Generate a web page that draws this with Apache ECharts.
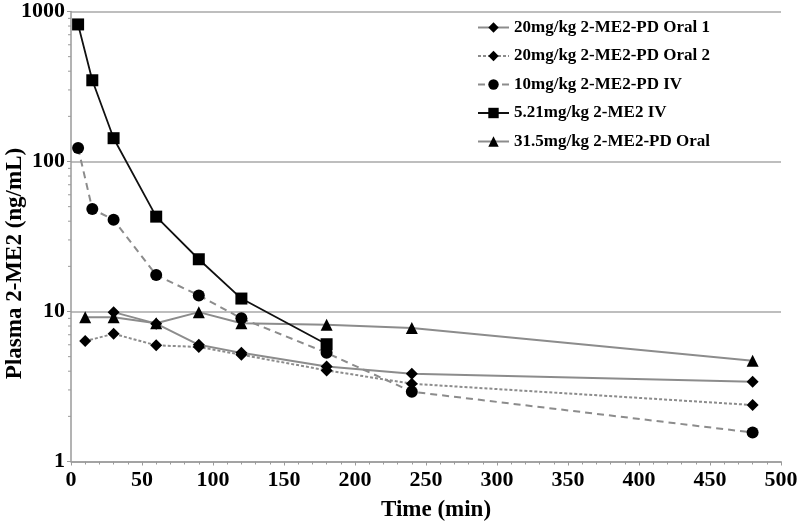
<!DOCTYPE html>
<html>
<head>
<meta charset="utf-8">
<script src="https://cdn.jsdelivr.net/npm/echarts@6/dist/echarts.min.js"></script>
<style>html,body{margin:0;padding:0;background:#fff}#c{width:800px;height:525px}</style>
</head>
<body>
<div id="c"></div>
<script>
const seriesNames = ['20mg/kg 2-ME2-PD Oral 1','20mg/kg 2-ME2-PD Oral 2','10mg/kg 2-ME2-PD IV','5.21mg/kg 2-ME2 IV','31.5mg/kg 2-ME2-PD Oral'];
const oral1Time = [30, 60, 90, 120, 180, 240, 480];
const oral1Conc = [9.9, 8.3, 6.0, 5.3, 4.3, 3.85, 3.4];
const oral2Time = [10, 30, 60, 90, 120, 180, 240, 480];
const oral2Conc = [6.35, 7.1, 5.95, 5.8, 5.15, 4.05, 3.3, 2.38];
const iv10Time = [5, 15, 30, 60, 90, 120, 180, 240, 480];
const iv10Conc = [123, 48.2, 40.9, 17.5, 12.8, 9.0, 5.3, 2.92, 1.56];
const iv521Time = [5, 15, 30, 60, 90, 120, 180];
const iv521Conc = [820, 348, 143, 42.9, 22.3, 12.2, 6.05];
const oral315Time = [10, 30, 60, 90, 120, 180, 240, 480];
const oral315Conc = [9.15, 9.15, 8.35, 9.9, 8.35, 8.15, 7.75, 4.7];
const yMinorTicks = [2,3,4,5,6,7,8,9,20,30,40,50,60,70,80,90,200,300,400,500,600,700,800,900];

const pair = (t, v) => t.map((x, i) => [x, v[i]]);
const gray = '#8c8c8c';
const font = 'Liberation Serif, Times New Roman, serif';

const chart = echarts.init(document.getElementById('c'), null, {renderer: 'canvas'});
chart.setOption({
  animation: false,
  backgroundColor: '#fff',
  grid: {left: 71, right: 19, top: 11.5, bottom: 63.5, containLabel: false, outerBoundsMode: 'none'},
  legend: {
    data: seriesNames,
    orient: 'vertical',
    left: 472, top: 14,
    itemWidth: 31, itemHeight: 13, itemGap: 11.5,
    textStyle: {fontFamily: font, fontWeight: 'bold', fontSize: 17, color: '#000'},
  },
  xAxis: {
    type: 'value', min: 0, max: 500, interval: 50,
    name: 'Time (min)', nameLocation: 'middle', nameGap: 37,
    nameTextStyle: {fontFamily: font, fontWeight: 'bold', fontSize: 23, color: '#000', padding: [0,0,0,20]},
    axisLine: {show: true, lineStyle: {color: '#9a9a9a', width: 1.5}},
    axisTick: {show: true, length: 4, lineStyle: {color: '#9a9a9a'}},
    minorTick: {show: true, splitNumber: 5, length: 3, lineStyle: {color: '#9a9a9a'}},
    axisLabel: {fontFamily: font, fontWeight: 'bold', fontSize: 22, color: '#000', margin: 8},
    splitLine: {show: false}
  },
  yAxis: {
    type: 'log', logBase: 10, min: 1, max: 1000,
    name: 'Plasma 2-ME2 (ng/mL)', nameLocation: 'middle', nameGap: 44, nameMoveOverlap: false,
    nameTextStyle: {fontFamily: font, fontWeight: 'bold', fontSize: 23, color: '#000', padding: [0, 54, 0, 0]},
    axisLine: {show: true, lineStyle: {color: '#9a9a9a', width: 1.5}},
    axisTick: {show: true, length: 4, lineStyle: {color: '#9a9a9a'}},
    axisLabel: {fontFamily: font, fontWeight: 'bold', fontSize: 22, color: '#000', margin: 6,
                formatter: v => String(Math.round(v))},
    splitLine: {show: true, lineStyle: {color: '#a8a8a8', width: 1.5}}
  },
  series: [
    {name: seriesNames[0], type: 'line', data: pair(oral1Time, oral1Conc), symbol: 'diamond', symbolSize: 12,
     itemStyle: {color: '#000'}, lineStyle: {color: gray, width: 2, type: 'solid'}, z: 3},
    {name: seriesNames[1], type: 'line', data: pair(oral2Time, oral2Conc), symbol: 'diamond', symbolSize: 12,
     itemStyle: {color: '#000'}, lineStyle: {color: gray, width: 2, type: [3, 2]}, z: 3},
    {name: seriesNames[2], type: 'line', data: pair(iv10Time, iv10Conc), symbol: 'circle', symbolSize: 12,
     itemStyle: {color: '#000'}, lineStyle: {color: gray, width: 2, type: [7, 5]}, z: 3},
    {name: seriesNames[3], type: 'line', data: pair(iv521Time, iv521Conc), symbol: 'rect', symbolSize: 12,
     itemStyle: {color: '#000'}, lineStyle: {color: '#111', width: 1.8, type: 'solid'}, z: 4},
    {name: seriesNames[4], type: 'line', data: pair(oral315Time, oral315Conc), symbol: 'triangle', symbolSize: 12,
     itemStyle: {color: '#000'}, lineStyle: {color: gray, width: 2, type: 'solid'}, z: 3},
    {name: 'yMinor', type: 'custom', silent: true, clip: false, z: 5,
     data: yMinorTicks.map(v => [0, v]),
     renderItem: function (params, api) {
       const p = api.coord([api.value(0), api.value(1)]);
       return {type: 'line', shape: {x1: p[0] - 3, y1: p[1], x2: p[0], y2: p[1]},
               style: {stroke: '#9a9a9a', lineWidth: 1}};
     }}
  ]
});
</script>
</body>
</html>
